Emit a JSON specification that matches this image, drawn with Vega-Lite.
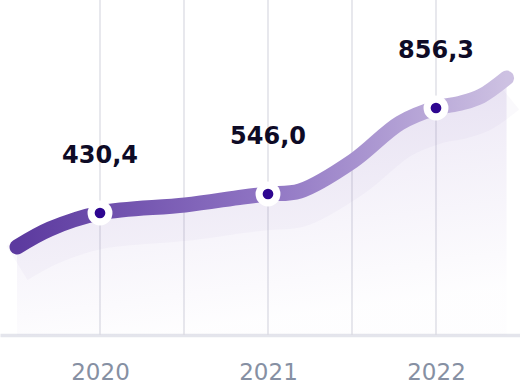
{
  "$schema": "https://vega.github.io/schema/vega-lite/v6.json",
  "width": 520,
  "height": 335,
  "autosize": {"type": "none"},
  "padding": {"left": 0, "top": 0, "right": 0, "bottom": 53},
  "background": "#ffffff",
  "config": {"view": {"stroke": null}},
  "datasets": {
    "curve": [
      {"year": 2019.506, "level": 88},
      {"year": 2019.702, "level": 106},
      {"year": 2020, "level": 122},
      {"year": 2020.506, "level": 130},
      {"year": 2020.85, "level": 138},
      {"year": 2021, "level": 141},
      {"year": 2021.19, "level": 144},
      {"year": 2021.506, "level": 174},
      {"year": 2021.786, "level": 212},
      {"year": 2022, "level": 227},
      {"year": 2022.15, "level": 232},
      {"year": 2022.27, "level": 239},
      {"year": 2022.42, "level": 257}
    ],
    "grid": [
      {"year": 2020}, {"year": 2020.5}, {"year": 2021}, {"year": 2021.5}, {"year": 2022}
    ],
    "points": [
      {"year": 2020, "level": 122, "label": "430,4"},
      {"year": 2021, "level": 141, "label": "546,0"},
      {"year": 2022, "level": 227, "label": "856,3"}
    ]
  },
  "layer": [
    {
      "data": {"name": "grid"},
      "mark": {"type": "rule", "color": "#dbdce4", "strokeWidth": 1.3},
      "encoding": {
        "x": {
          "field": "year", "type": "quantitative",
          "scale": {"domain": [2019.40476, 2022.5], "nice": false, "zero": false},
          "axis": {
            "values": [2020, 2021, 2022],
            "format": "d",
            "title": null,
            "grid": false,
            "ticks": false,
            "domain": true,
            "domainColor": "#e4e5ec",
            "domainWidth": 3.5,
            "labelFont": "DejaVu Sans",
            "labelFontSize": 23,
            "labelColor": "#8690a3",
            "labelPadding": 26
          }
        }
      }
    },
    {
      "data": {"name": "curve"},
      "mark": {
        "type": "area",
        "interpolate": "catmull-rom",
        "fill": {
          "gradient": "linear",
          "x1": 0, "y1": 0, "x2": 0.25, "y2": 1,
          "stops": [
            {"offset": 0, "color": "rgba(140,110,195,0.20)"},
            {"offset": 0.4, "color": "rgba(140,110,195,0.12)"},
            {"offset": 1, "color": "rgba(140,110,195,0.01)"}
          ]
        }
      },
      "encoding": {
        "x": {"field": "year", "type": "quantitative"},
        "y": {"field": "level", "type": "quantitative", "scale": {"domain": [0, 335], "nice": false}, "axis": null}
      }
    },
    {
      "data": {"name": "curve"},
      "mark": {"type": "line", "interpolate": "catmull-rom", "strokeWidth": 40, "yOffset": 16, "color": "#7a5cb8", "opacity": 0.04, "strokeCap": "butt"},
      "encoding": {
        "x": {"field": "year", "type": "quantitative"},
        "y": {"field": "level", "type": "quantitative"}
      }
    },
    {
      "data": {"name": "curve"},
      "mark": {
        "type": "line",
        "interpolate": "catmull-rom",
        "strokeWidth": 15,
        "strokeCap": "round",
        "stroke": {
          "gradient": "linear",
          "x1": 0, "y1": 0, "x2": 1, "y2": 0,
          "stops": [
            {"offset": 0, "color": "#5c3a9f"},
            {"offset": 0.5, "color": "#8f74c3"},
            {"offset": 1, "color": "#cdc1e2"}
          ]
        }
      },
      "encoding": {
        "x": {"field": "year", "type": "quantitative"},
        "y": {"field": "level", "type": "quantitative"}
      }
    },
    {
      "data": {"name": "points"},
      "mark": {"type": "circle", "size": 620, "color": "#ffffff", "opacity": 1},
      "encoding": {
        "x": {"field": "year", "type": "quantitative"},
        "y": {"field": "level", "type": "quantitative"}
      }
    },
    {
      "data": {"name": "points"},
      "mark": {"type": "circle", "size": 115, "color": "#2e0690", "opacity": 1},
      "encoding": {
        "x": {"field": "year", "type": "quantitative"},
        "y": {"field": "level", "type": "quantitative"}
      }
    },
    {
      "data": {"name": "points"},
      "mark": {"type": "text", "font": "DejaVu Sans", "fontWeight": "bold", "fontSize": 24, "color": "#0e0b26", "baseline": "alphabetic", "dy": -50},
      "encoding": {
        "x": {"field": "year", "type": "quantitative"},
        "y": {"field": "level", "type": "quantitative"},
        "text": {"field": "label"}
      }
    }
  ]
}
